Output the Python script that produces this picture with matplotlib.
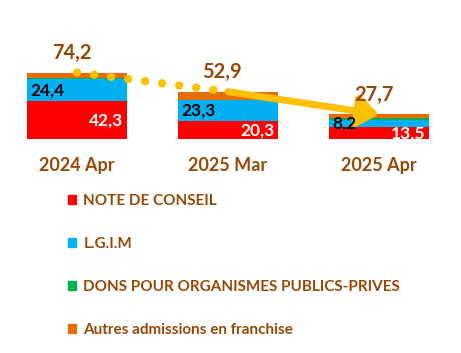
import matplotlib
matplotlib.use("Agg")
import matplotlib.pyplot as plt
from matplotlib.patches import Rectangle

categories = ["2024 Apr", "2025 Mar", "2025 Apr"]
totals = [74.2, 52.9, 27.7]
note_conseil = [42.3, 20.3, 13.5]
lgim = [24.4, 23.3, 8.2]
dons = [1.5, 0.2, 2.0]
autres = [6.0, 9.1, 4.0]
series_names = ["NOTE DE CONSEIL", "L.G.I.M", "DONS POUR ORGANISMES PUBLICS-PRIVES",
                "Autres admissions en franchise"]

colors = ["#FF0000", "#00B0F0", "#00B050", "#E46C0A"]
brown = "#974806"
gold = "#FFC000"
plt.rcParams['font.family'] = ['Lato', 'DejaVu Sans']

W, H = 461, 353
fig = plt.figure(figsize=(W / 100, H / 100), dpi=100)
ax = fig.add_axes([1.5 / W, 1 - 139.3 / H, 453 / W, 90 / H])
ax.set_xlim(-0.5, 2.5)
ax.set_ylim(0, 100)

x = list(range(len(categories)))
bw = 0.66
bottom = [0.0] * 3
bars = []
for vals, c in zip([note_conseil, lgim, dons, autres], colors):
    b = ax.bar(x, vals, bw, bottom=bottom, color=c, zorder=2)
    bars.append(b)
    bottom = [bo + v for bo, v in zip(bottom, vals)]

fmt = lambda v: f"{v:.1f}".replace(".", ",")

for i in x:
    # red label, right aligned
    ax.annotate(fmt(note_conseil[i]), xy=(i + bw / 2, note_conseil[i] / 2),
                xytext=(-2.5, 0), textcoords="offset points", ha="right", va="center",
                color="white", fontsize=12.5, fontweight="bold", zorder=5)
    # blue label, left aligned
    ax.annotate(fmt(lgim[i]), xy=(i - bw / 2, note_conseil[i] + lgim[i] / 2),
                xytext=(2.0, 0), textcoords="offset points", ha="left", va="center",
                color="black", fontsize=12.5, fontweight="bold", zorder=5)
    # total
    ax.annotate(fmt(totals[i]), xy=(i, totals[i]), xytext=(-4, 14),
                textcoords="offset points", ha="center", va="center",
                color=brown, fontsize=14.5, fontweight="bold", zorder=5)

# dotted trend between first two totals
ax.plot([0, 1], [totals[0], totals[1]], color=gold, lw=6,
        linestyle=(0, (0.01, 2.05)), dash_capstyle="round", zorder=3)
# thick arrow between last two totals
ax.annotate("", xy=(2, totals[2]), xytext=(1, totals[1]),
            arrowprops=dict(arrowstyle="-|>,head_length=0.6,head_width=0.45",
                            color=gold, lw=5, shrinkA=0, shrinkB=0,
                            mutation_scale=20, capstyle="round"), zorder=4)

ax.set_xticks(x, categories)
ax.tick_params(axis="x", length=0, pad=13, labelsize=13, labelcolor=brown)
for t in ax.get_xticklabels():
    t.set_fontweight("bold")
ax.set_yticks([])
for s in ax.spines.values():
    s.set_visible(False)

handles = [Rectangle((0, 0), 1, 1, color=c) for c in colors]
leg = fig.legend(handles, series_names, loc="upper left",
                 bbox_to_anchor=(68 / W, 1 - 194 / H), frameon=False,
                 handlelength=0.55, handleheight=0.55, handletextpad=0.45,
                 labelspacing=1.9, borderpad=0, borderaxespad=0,
                 prop=dict(family=['Lato', 'DejaVu Sans'], weight="bold", size=11))
for t in leg.get_texts():
    t.set_color(brown)

fig.savefig("out.png", dpi=100)
